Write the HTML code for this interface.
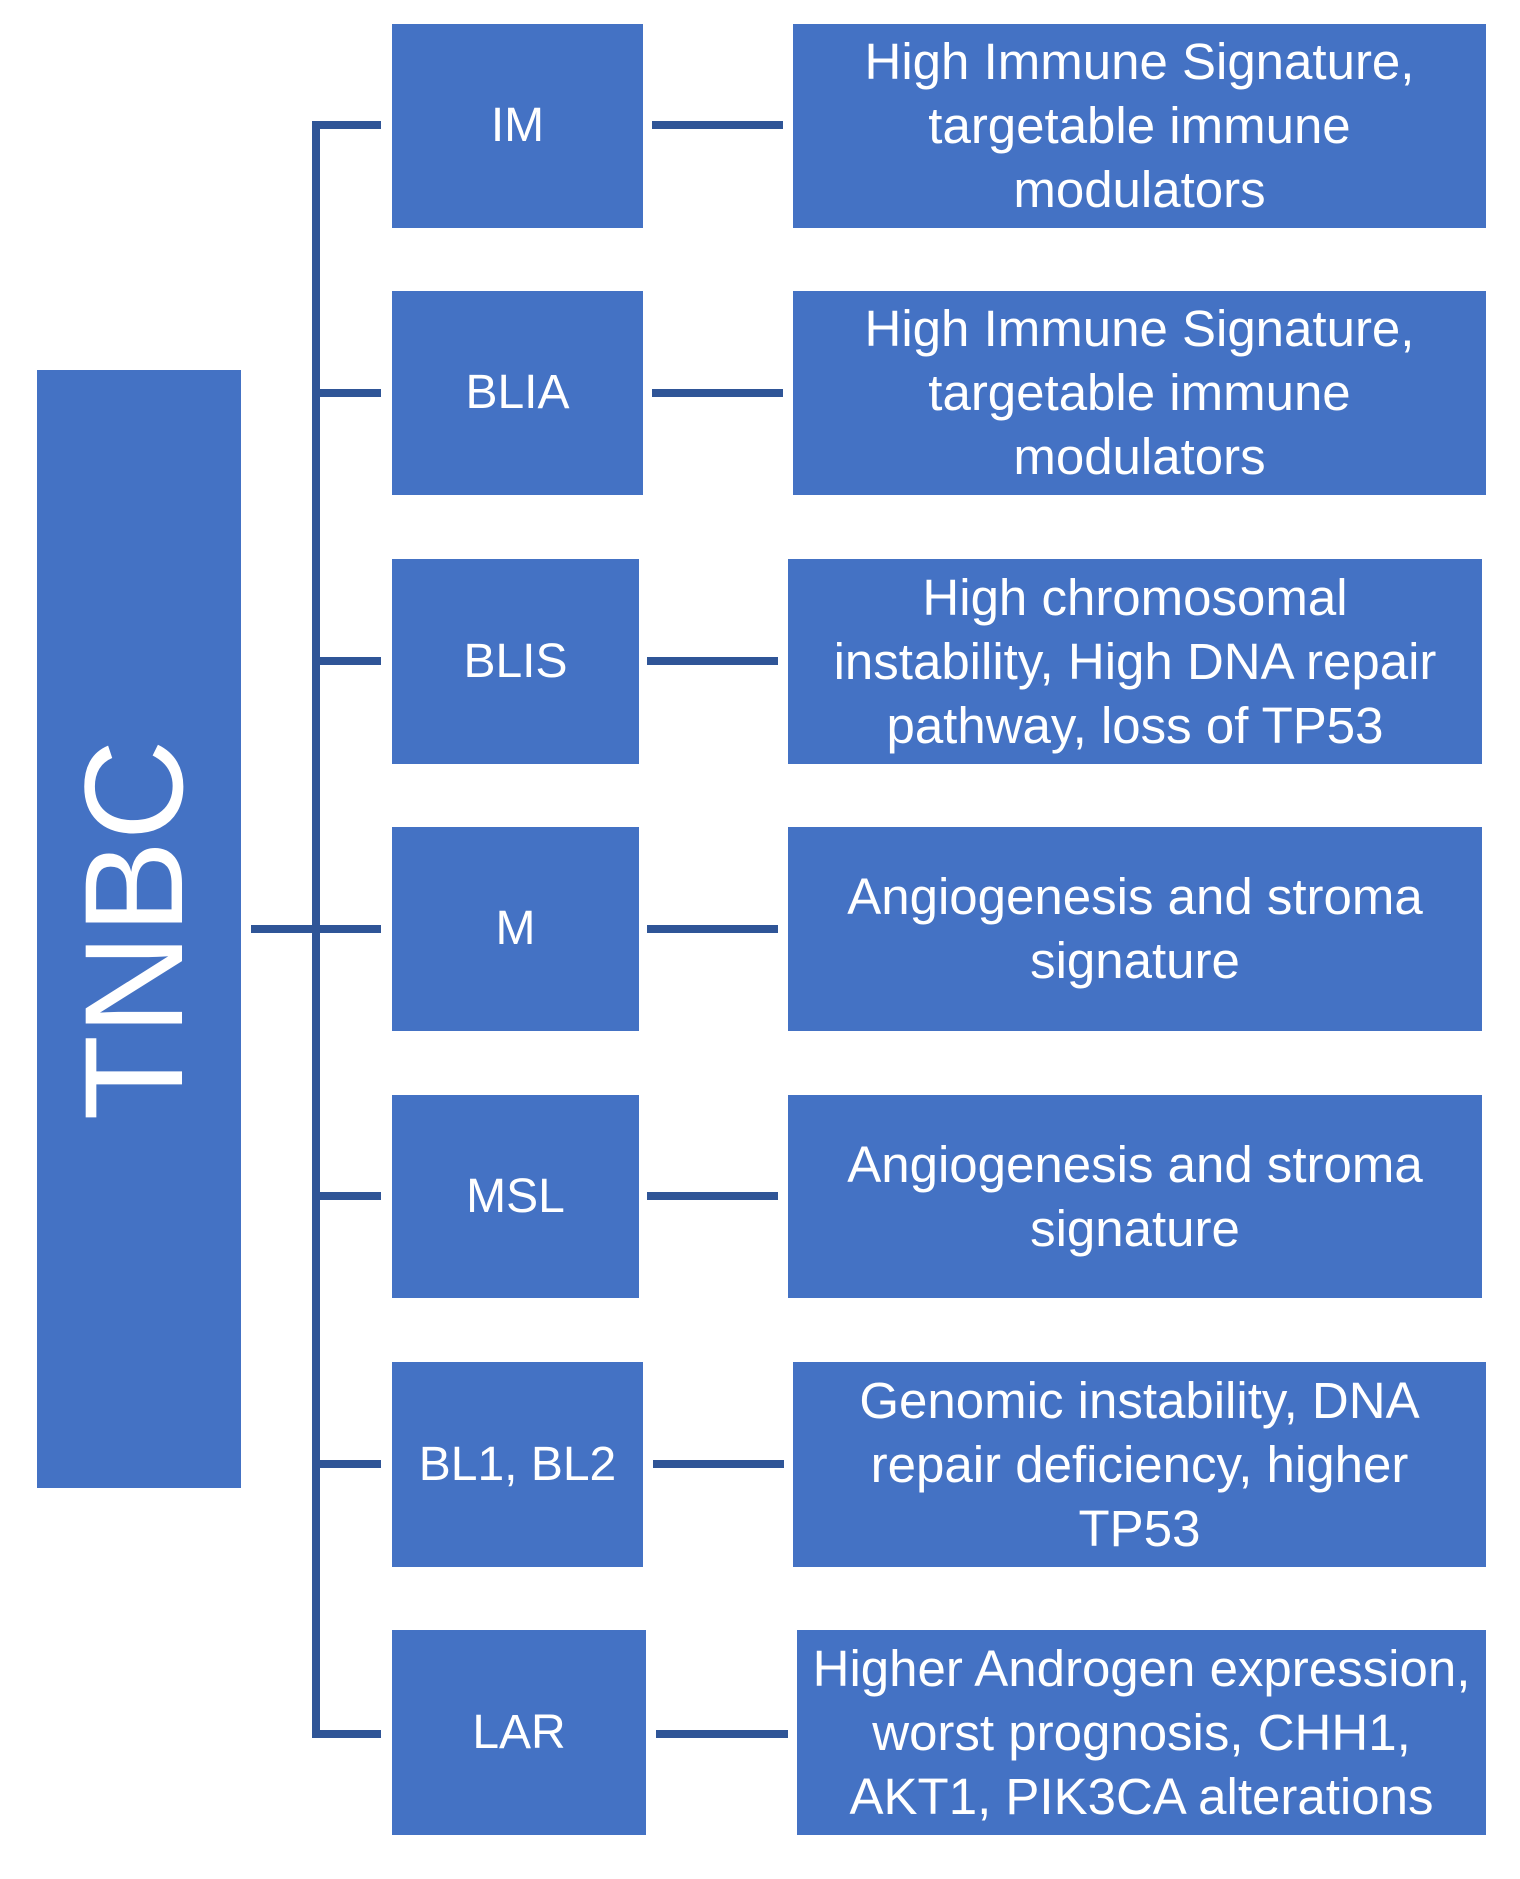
<!DOCTYPE html>
<html><head><meta charset="utf-8"><style>
body{margin:0;width:1520px;height:1879px;background:#fff;position:relative;overflow:hidden;font-family:"Liberation Sans",sans-serif}
.b{position:absolute;background:#4472C4;color:#fff;display:flex;align-items:center;justify-content:center;text-align:center;font-size:48px;line-height:64px;white-space:nowrap}
.r{font-size:51px}
.l{position:absolute;background:#2F5597}
</style></head><body>
<div class="b" style="left:37px;top:370px;width:204px;height:1118px"></div>
<div style="position:absolute;left:134px;top:930px;transform:translate(-50%,-50%) rotate(-90deg);color:#fff;font-size:140px;line-height:150px;white-space:nowrap">TNBC</div>
<div class="l" style="left:251px;top:925px;width:130px;height:8px"></div>
<div class="l" style="left:312px;top:121px;width:8px;height:1617px"></div>

<div class="l" style="left:312px;top:121px;width:69px;height:8px"></div>
<div class="l" style="left:312px;top:389px;width:69px;height:8px"></div>
<div class="l" style="left:312px;top:657px;width:69px;height:8px"></div>
<div class="l" style="left:312px;top:1192px;width:69px;height:8px"></div>
<div class="l" style="left:312px;top:1460px;width:69px;height:8px"></div>
<div class="l" style="left:312px;top:1730px;width:69px;height:8px"></div>

<div class="l" style="left:652px;top:121px;width:131px;height:8px"></div>
<div class="l" style="left:652px;top:389px;width:131px;height:8px"></div>
<div class="l" style="left:647px;top:657px;width:131px;height:8px"></div>
<div class="l" style="left:647px;top:925px;width:131px;height:8px"></div>
<div class="l" style="left:647px;top:1192px;width:131px;height:8px"></div>
<div class="l" style="left:653px;top:1460px;width:131px;height:8px"></div>
<div class="l" style="left:656px;top:1730px;width:132px;height:8px"></div>

<div class="b" style="left:392px;top:24px;width:251px;height:204px">IM</div>
<div class="b" style="left:392px;top:291px;width:251px;height:204px">BLIA</div>
<div class="b" style="left:392px;top:559px;width:247px;height:205px">BLIS</div>
<div class="b" style="left:392px;top:827px;width:247px;height:204px">M</div>
<div class="b" style="left:392px;top:1095px;width:247px;height:203px">MSL</div>
<div class="b" style="left:392px;top:1362px;width:251px;height:205px">BL1, BL2</div>
<div class="b" style="left:392px;top:1630px;width:254px;height:205px">LAR</div>

<div class="b r" style="left:793px;top:24px;width:693px;height:204px">High Immune Signature,<br>targetable immune<br>modulators</div>
<div class="b r" style="left:793px;top:291px;width:693px;height:204px">High Immune Signature,<br>targetable immune<br>modulators</div>
<div class="b r" style="left:788px;top:559px;width:694px;height:205px">High chromosomal<br>instability, High DNA repair<br>pathway, loss of TP53</div>
<div class="b r" style="left:788px;top:827px;width:694px;height:204px">Angiogenesis and stroma<br>signature</div>
<div class="b r" style="left:788px;top:1095px;width:694px;height:203px">Angiogenesis and stroma<br>signature</div>
<div class="b r" style="left:793px;top:1362px;width:693px;height:205px">Genomic instability, DNA<br>repair deficiency, higher<br>TP53</div>
<div class="b r" style="left:797px;top:1630px;width:689px;height:205px">Higher Androgen expression,<br>worst prognosis, CHH1,<br>AKT1, PIK3CA alterations</div>
</body></html>
